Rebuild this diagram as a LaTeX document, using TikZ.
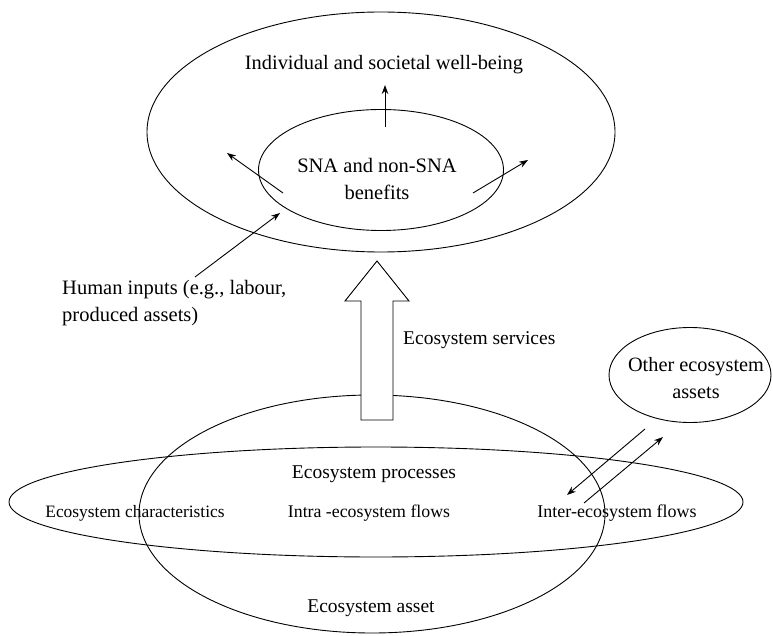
\documentclass[tikz,border=0pt]{standalone}
\usepackage{fontspec}
\setmainfont{Liberation Serif}
\usetikzlibrary{shapes.geometric,arrows.meta}
\begin{document}
\begin{tikzpicture}[x=1pt,y=-1pt,
  ell/.style={draw,ellipse,inner sep=0pt,line width=0.9pt},
  lbl/.style={font=\fontsize{19.5}{27}\selectfont,inner sep=0pt},
  fs/.style={font=\fontsize{#1}{27}\selectfont},
  arr/.style={-{Stealth[length=9pt,width=6.5pt]},line width=0.9pt}]
\useasboundingbox (0,0) rectangle (773,636);
% ellipses
\node[ell,minimum width=468pt,minimum height=240pt] (outer) at (381,132) {};
\node[ell,minimum width=245pt,minimum height=121pt] (inner) at (381,170) {};
\node[ell,minimum width=162pt,minimum height=95pt] (other) at (690,375) {};
\node[ell,minimum width=466pt,minimum height=238pt] (asset) at (372,514) {};
\node[ell,minimum width=734pt,minimum height=110pt] (proc) at (376,502) {};
% texts
\node[lbl,fs=20.4] (wb) at (384,65) {Individual and societal well-being};
\node[lbl,fs=20.5,align=center] (sna) at (377,178.5) {SNA and non-SNA\\benefits};
\node[lbl,fs=20.5,align=left,anchor=west] (hum) at (62,303.5) {Human inputs (e.g., labour,\\produced assets)};
\node[lbl,anchor=west] (serv) at (403,340) {Ecosystem services};
\node[lbl,fs=20.3,align=center] (oth) at (696,378.5) {Other ecosystem\\assets};
\node[lbl] (ep) at (374,474) {Ecosystem processes};
\node[lbl,fs=17.4] (ec) at (135,513) {Ecosystem characteristics};
\node[lbl,fs=17.8] (intra) at (369,513) {Intra -ecosystem flows};
\node[lbl,fs=18] (inter) at (617,513) {Inter-ecosystem flows};
\node[lbl] (ea) at (371,608) {Ecosystem asset};
% arrow endpoints
\coordinate (up0) at (385,127); \coordinate (up1) at (385,85);
\coordinate (l0) at (283,193); \coordinate (l1) at (227,153);
\coordinate (r0) at (473,193); \coordinate (r1) at (528,160);
\coordinate (h0) at (195,277); \coordinate (h1) at (280,213);
\coordinate (f0) at (645,429); \coordinate (f1) at (567,495);
\coordinate (g0) at (584,503); \coordinate (g1) at (663,437);
\draw[arr] (up0) -- (up1);
\draw[arr] (l0) -- (l1);
\draw[arr] (r0) -- (r1);
\draw[arr] (h0) -- (h1);
\draw[arr] (f0) -- (f1);
\draw[arr] (g0) -- (g1);
% big hollow arrow (ecosystem services)
\draw[line width=0.9pt,fill=white] (361,420) -- (361,301) -- (345,301) -- (377,261) -- (409,301) -- (393,301) -- (393,420) -- cycle;
\end{tikzpicture}
\end{document}
